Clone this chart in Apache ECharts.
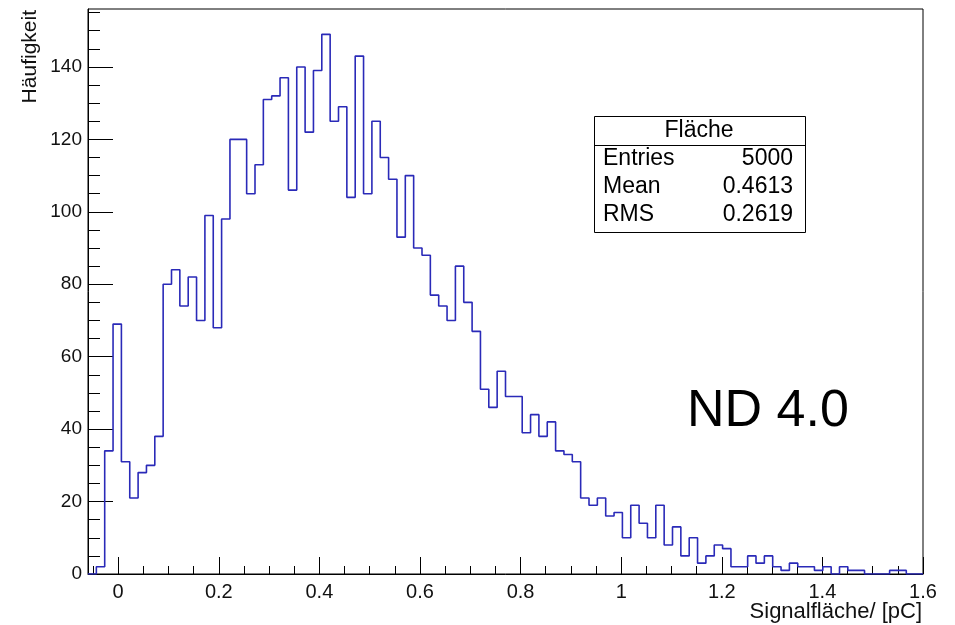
<!DOCTYPE html>
<html><head><meta charset="utf-8">
<script src="https://cdn.jsdelivr.net/npm/echarts@6/dist/echarts.min.js"></script>
<style>html,body{margin:0;padding:0;background:#fff}#c{width:955px;height:625px}</style>
</head><body><div id="c"></div>
<script>
// Histogram definition (ROOT TH1: 100 bins from -0.06 to 1.6)
const xMin = -0.06;
const xMax = 1.6;
const nBins = 100;
const counts = [
  0, 2, 34, 69, 31, 21, 28, 30, 38, 80,
  84, 74, 82, 70, 99, 68, 98, 120, 120, 105,
  113, 131, 132, 137, 106, 140, 122, 139, 149, 125,
  129, 104, 143, 105, 125, 115, 109, 93, 110, 90,
  88, 77, 74, 70, 85, 75, 67, 51, 46, 56,
  49, 49, 39, 44, 38, 42, 34, 33, 31, 21,
  19, 21, 16, 17, 10, 19, 14, 10, 19, 8,
  13, 5, 10, 3, 5, 8, 7, 2, 2, 5,
  3, 5, 2, 1, 3, 2, 2, 1, 2, 0,
  2, 1, 1, 0, 0, 0, 1, 1, 0, 0
];
const yMax = 156;
const xMajorTicks = [0, 0.2, 0.4, 0.6, 0.8, 1, 1.2, 1.4, 1.6];
const xMinorTicks = [-0.05, 0.05, 0.1, 0.15, 0.25, 0.3, 0.35, 0.45, 0.5, 0.55, 0.65, 0.7, 0.75,
  0.85, 0.9, 0.95, 1.05, 1.1, 1.15, 1.25, 1.3, 1.35, 1.45, 1.5, 1.55];
const yMajorTicks = [0, 20, 40, 60, 80, 100, 120, 140];
const yMinorTicks = [5, 10, 15, 25, 30, 35, 45, 50, 55, 65, 70, 75, 85, 90, 95,
  105, 110, 115, 125, 130, 135, 145, 150, 155];
const xTitle = 'Signalfläche/ [pC]';
const yTitle = 'Häufigkeit';
const statsTitle = 'Fläche';
const statsNames = ['Entries', 'Mean', 'RMS'];
const statsValues = ['5000', '0.4613', '0.2619'];
const annotation = 'ND 4.0';

const FONT = 'Liberation Sans';
const binW = (xMax - xMin) / nBins;
const points = counts.map((c, i) => [xMin + i * binW, c]);
points.push([xMax, counts[nBins - 1]]);

const gridPos = {left: 88, right: 32, top: 9, bottom: 51};
const chart = echarts.init(document.getElementById('c'), null, {renderer: 'canvas'});

const SF = '23px "' + FONT + '"';
const statsGraphics = [
  {type: 'rect', shape: {x: 594.5, y: 116.5, width: 211, height: 116},
   style: {fill: '#fff', stroke: '#000', lineWidth: 1}, z: 10},
  {type: 'line', shape: {x1: 594.5, y1: 145.5, x2: 805.5, y2: 145.5},
   style: {stroke: '#000', lineWidth: 1}, z: 11},
  {type: 'text', x: 699, y: 131, z: 12,
   style: {text: statsTitle, font: SF, fill: '#000', align: 'center', verticalAlign: 'middle'}}
];
statsNames.forEach((n, i) => {
  statsGraphics.push({type: 'text', x: 603, y: 159 + i * 28, z: 12,
    style: {text: n, font: SF, fill: '#000', align: 'left', verticalAlign: 'middle'}});
  statsGraphics.push({type: 'text', x: 793, y: 159 + i * 28, z: 12,
    style: {text: statsValues[i], font: SF, fill: '#000', align: 'right', verticalAlign: 'middle'}});
});

const option = {
  animation: false,
  backgroundColor: '#fff',
  grid: [
    Object.assign({show: true, borderColor: '#000', borderWidth: 1, backgroundColor: '#fff'}, gridPos),
    Object.assign({show: false}, gridPos)
  ],
  xAxis: [
    {type: 'value', gridIndex: 0, min: xMin, max: xMax, position: 'bottom',
     axisLine: {show: true, onZero: false, lineStyle: {color: '#000', width: 1}},
     axisTick: {show: true, inside: true, length: 17, customValues: xMajorTicks, lineStyle: {color: '#000'}},
     axisLabel: {show: true, customValues: xMajorTicks, margin: 8, color: '#111', fontSize: 20, fontFamily: FONT},
     splitLine: {show: false}},
    {type: 'value', gridIndex: 1, min: xMin, max: xMax, position: 'bottom',
     axisLine: {show: false, onZero: false},
     axisTick: {show: true, inside: true, length: 8, customValues: xMinorTicks, lineStyle: {color: '#000'}},
     axisLabel: {show: false}, splitLine: {show: false}}
  ],
  yAxis: [
    {type: 'value', gridIndex: 0, min: 0, max: yMax, position: 'left',
     axisLine: {show: true, onZero: false, lineStyle: {color: '#000', width: 1}},
     axisTick: {show: true, inside: true, length: 25, customValues: yMajorTicks, lineStyle: {color: '#000'}},
     axisLabel: {show: true, customValues: yMajorTicks, margin: 6, color: '#111', fontSize: 19, fontFamily: FONT},
     splitLine: {show: false}},
    {type: 'value', gridIndex: 1, min: 0, max: yMax, position: 'left',
     axisLine: {show: false, onZero: false},
     axisTick: {show: true, inside: true, length: 12, customValues: yMinorTicks, lineStyle: {color: '#000'}},
     axisLabel: {show: false}, splitLine: {show: false}}
  ],
  series: [{
    type: 'line', xAxisIndex: 0, yAxisIndex: 0, step: 'end', symbol: 'none',
    data: points, clip: true,
    lineStyle: {color: '#2a2ab8', width: 1.6}
  }],
  graphic: [
    {type: 'text', x: 30, y: 10, rotation: Math.PI / 2,
     style: {text: yTitle, font: '21px "' + FONT + '"', fill: '#111', align: 'right', verticalAlign: 'middle'}},
    {type: 'text', x: 922, y: 601,
     style: {text: xTitle, font: '22px "' + FONT + '"', fill: '#111', align: 'right', verticalAlign: 'top'}},
    {type: 'text', x: 687, y: 412,
     style: {text: annotation, font: '52px "' + FONT + '"', fill: '#000', align: 'left', verticalAlign: 'middle'}},
    ...statsGraphics
  ]
};
chart.setOption(option);
</script>
</body></html>
